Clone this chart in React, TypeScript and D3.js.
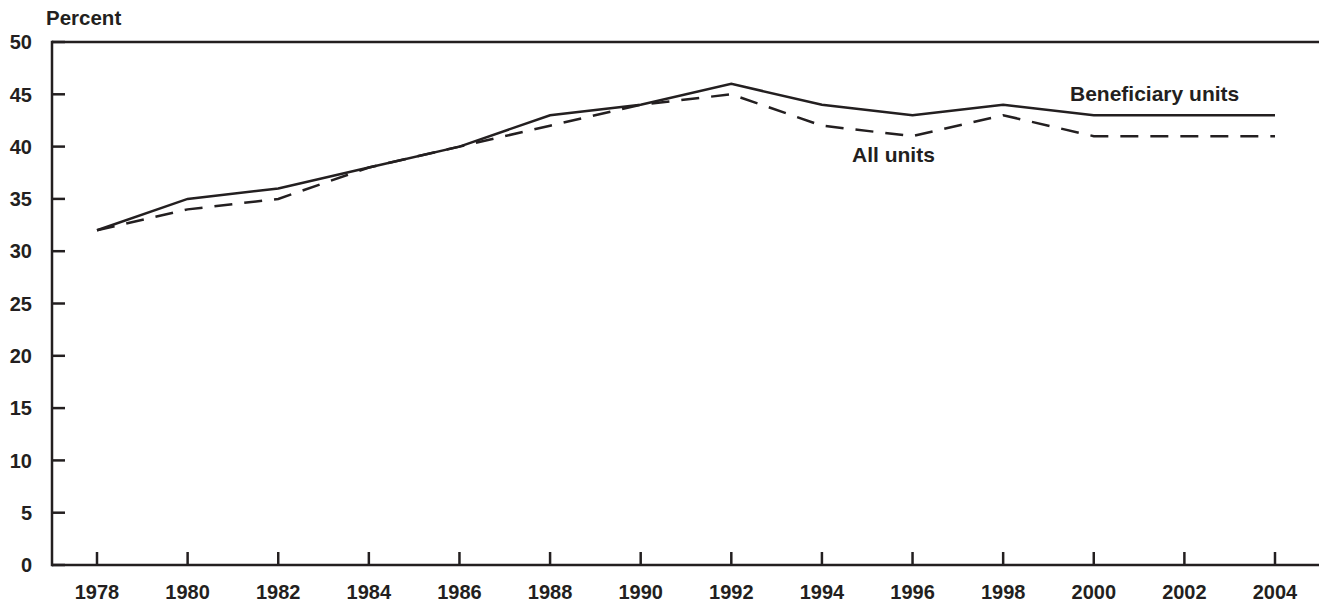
import React from "react";
import * as d3 from "d3";

const years = [1978, 1980, 1982, 1984, 1986, 1988, 1990, 1992, 1994, 1996, 1998, 2000, 2002, 2004];
const beneficiaryUnits = [32, 35, 36, 38, 40, 43, 44, 46, 44, 43, 44, 43, 43, 43];
const allUnits = [32, 34, 35, 38, 40, 42, 44, 45, 42, 41, 43, 41, 41, 41];
const yTicks = [0, 5, 10, 15, 20, 25, 30, 35, 40, 45, 50];

const W = 1319;
const H = 603;
const INK = "#231f20";
const FONT = "'Liberation Sans', Arial, Helvetica, sans-serif";

export default function App() {
  const left = 52;
  const top = 42;
  const bottom = 565;
  const x = d3.scaleLinear().domain([1978, 2004]).range([97, 1275]);
  const y = d3.scaleLinear().domain([0, 50]).range([bottom, top]);

  const line = d3
    .line<number>()
    .x((_, i) => x(years[i]))
    .y((d) => y(d));

  return (
    <svg
      width={W}
      height={H}
      style={{ position: "absolute", left: 0, top: 0, background: "#fff" }}
      fontFamily={FONT}
    >
      <text x={46} y={25} fontSize={20.5} fontWeight="bold" fill={INK}>
        Percent
      </text>
      {/* frame */}
      <line x1={left} x2={W} y1={top} y2={top} stroke={INK} strokeWidth={2.5} />
      <line x1={left} x2={W} y1={bottom} y2={bottom} stroke={INK} strokeWidth={2.5} />
      <line x1={left} x2={left} y1={top - 1.25} y2={bottom + 1.25} stroke={INK} strokeWidth={2.5} />
      {yTicks.map((t) => (
        <g key={t}>
          <line x1={left} x2={65} y1={y(t)} y2={y(t)} stroke={INK} strokeWidth={2.5} />
          <text
            x={32}
            y={y(t)}
            dy="0.36em"
            textAnchor="end"
            fontSize={20}
            fontWeight="bold"
            fill={INK}
          >
            {t}
          </text>
        </g>
      ))}
      {years.map((yr) => (
        <g key={yr}>
          <line x1={x(yr)} x2={x(yr)} y1={bottom} y2={552} stroke={INK} strokeWidth={2.5} />
          <text
            x={x(yr)}
            y={599}
            textAnchor="middle"
            fontSize={20}
            fontWeight="bold"
            fill={INK}
          >
            {yr}
          </text>
        </g>
      ))}
      <path d={line(allUnits) || ""} fill="none" stroke={INK} strokeWidth={2.5} strokeDasharray="18,12" />
      <path d={line(beneficiaryUnits) || ""} fill="none" stroke={INK} strokeWidth={2.5} />
      <text x={1070} y={101} fontSize={21} fontWeight="bold" fill={INK}>
        Beneficiary units
      </text>
      <text x={852} y={162} fontSize={21} fontWeight="bold" fill={INK}>
        All units
      </text>
    </svg>
  );
}
